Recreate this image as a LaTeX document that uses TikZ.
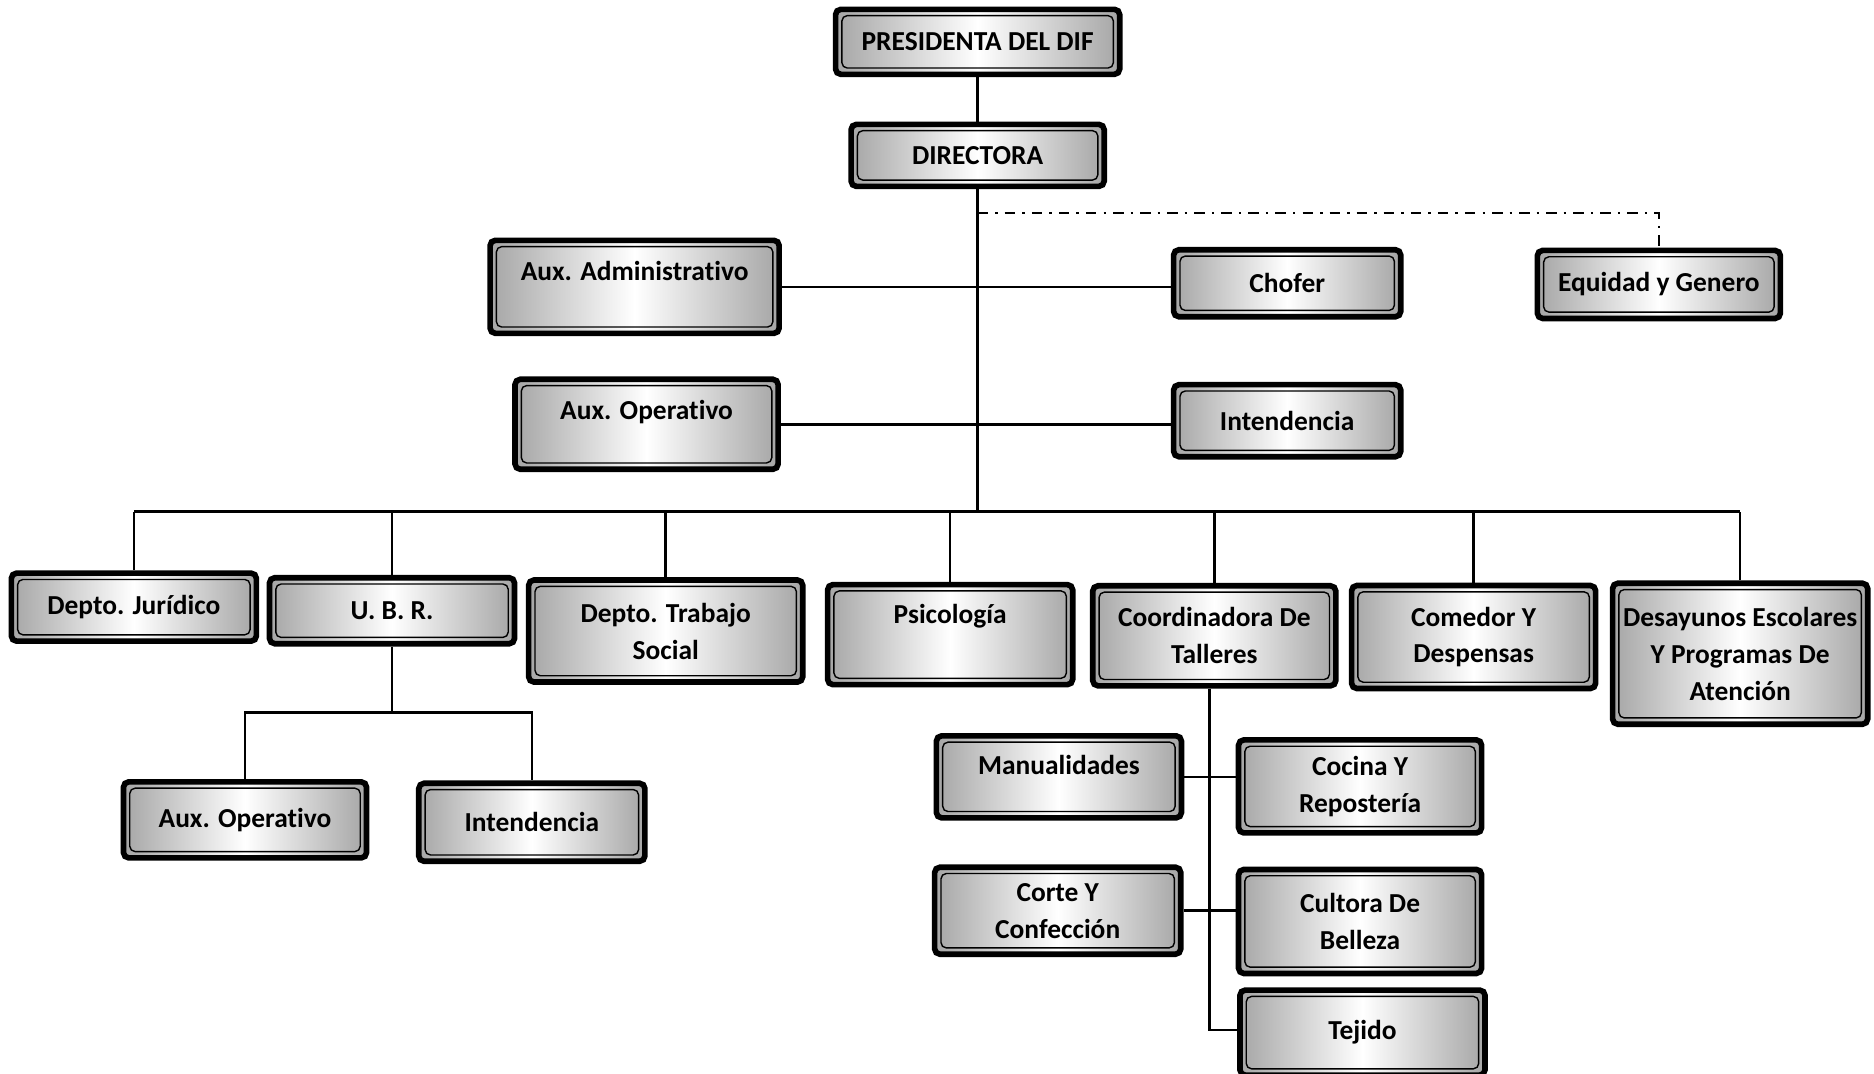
\documentclass[tikz,border=0pt]{standalone}
\usepackage{fontspec}
\setmainfont{Carlito}[Ligatures={NoCommon}]
\usepackage{tikz}
\usetikzlibrary{positioning,calc}

\tikzset{
  orgbox/.style={draw,line width=1.6pt,rounded corners=1.5pt,
    left color=gray!70,right color=gray!70,middle color=white,
    align=center,inner sep=1pt,
    font=\fontsize{7.8}{10.5}\selectfont\bfseries,
    path picture={\draw[line width=0.4pt]
      ([shift={(1.8pt,1.8pt)}]path picture bounding box.south west) rectangle
      ([shift={(-1.8pt,-1.8pt)}]path picture bounding box.north east);}},
  lifted/.style={text depth=#1},
  link/.style={line width=0.7pt}
}

\begin{document}
\begin{tikzpicture}[x=0.01195cm,y=-0.01195cm]
    \useasboundingbox (0,0) rectangle (1568,898);
    % top
    \node[orgbox,minimum width=2.84cm,minimum height=0.65cm] (pres) at (818,35) {PRESIDENTA DEL DIF};
    \node[orgbox,minimum width=2.53cm,minimum height=0.62cm] (dir) at (818,130) {DIRECTORA};
    \node[orgbox,minimum width=2.43cm,minimum height=0.68cm] (equidad) at (1388,238) {Equidad y Genero};
    \node[orgbox,lifted=9pt,minimum width=2.89cm,minimum height=0.93cm] (auxadm) at (531,240) {Aux. Administrativo};
    \node[orgbox,minimum width=2.27cm,minimum height=0.67cm] (chofer) at (1077,237) {Chofer};
    \node[orgbox,lifted=8pt,minimum width=2.63cm,minimum height=0.90cm] (auxop) at (541,355) {Aux. Operativo};
    \node[orgbox,minimum width=2.27cm,minimum height=0.72cm] (intend) at (1077,352) {Intendencia};
    % departamentos
    \node[orgbox,minimum width=2.45cm,minimum height=0.68cm] (juridico) at (112,508) {Depto. Jurídico};
    \node[orgbox,minimum width=2.45cm,minimum height=0.66cm] (ubr) at (328,511) {U. B. R.};
    \node[orgbox,minimum width=2.74cm,minimum height=1.02cm] (trabajo) at (557,528) {Depto. Trabajo\\Social};
    \node[orgbox,lifted=12pt,minimum width=2.45cm,minimum height=1.00cm] (psico) at (795,531) {Psicología};
    \node[orgbox,minimum width=2.43cm,minimum height=1.00cm] (coord) at (1016,532) {Coordinadora De\\Talleres};
    \node[orgbox,minimum width=2.44cm,minimum height=1.03cm] (comedor) at (1233,533) {Comedor Y\\Despensas};
    \node[orgbox,minimum width=2.55cm,minimum height=1.41cm] (desay) at (1456,547) {Desayunos Escolares\\Y Programas De\\Atención};
    % U.B.R.
    \node[orgbox,minimum width=2.43cm,minimum height=0.76cm] (ubrop) at (205,686) {Aux. Operativo};
    \node[orgbox,minimum width=2.26cm,minimum height=0.78cm] (ubrint) at (445,688) {Intendencia};
    % talleres
    \node[orgbox,lifted=7pt,minimum width=2.45cm,minimum height=0.82cm] (manual) at (886,650) {Manualidades};
    \node[orgbox,minimum width=2.43cm,minimum height=0.93cm] (cocina) at (1138,658) {Cocina Y\\Repostería};
    \node[orgbox,minimum width=2.46cm,minimum height=0.87cm] (corte) at (885,762) {Corte Y\\Confección};
    \node[orgbox,minimum width=2.43cm,minimum height=1.04cm] (cultora) at (1138,771) {Cultora De\\Belleza};
    \node[orgbox,minimum width=2.45cm,minimum height=0.85cm] (tejido) at (1140,864) {Tejido};

    \coordinate (dd) at (818,178);
    \coordinate (bus) at (818,428);
    \coordinate (ubrbus) at (326,596);
    \coordinate (tl) at (1012,862);

    \draw[link] (pres) -- (dir);
    \draw[link] (dir) -- (bus);
    \draw[link,dash dot] (dd) -| (equidad.north);
    \draw[link] (auxadm.east) -- (auxadm.east -| chofer.west);
    \draw[link] (auxop.east) -- (auxop.east -| intend.west);
    \draw[link] (juridico.north |- bus) -- (desay.north |- bus);
    \foreach \d in {juridico,ubr,trabajo,psico,coord,comedor,desay}
      \draw[link] (\d.north) -- (\d.north |- bus);
    % U.B.R.
    \draw[link] (ubr.south) -- (ubr.south |- ubrbus);
    \draw[link] (ubrop.north) |- (ubrbus) -| (ubrint.north);
    % talleres
    \draw[link] (coord.south -| tl) -- (tl) -- (tl -| tejido.west);
    \draw[link] (manual.east) -- (manual.east -| cocina.west);
    \draw[link] (corte.east) -- (corte.east -| cultora.west);
\end{tikzpicture}
\end{document}
